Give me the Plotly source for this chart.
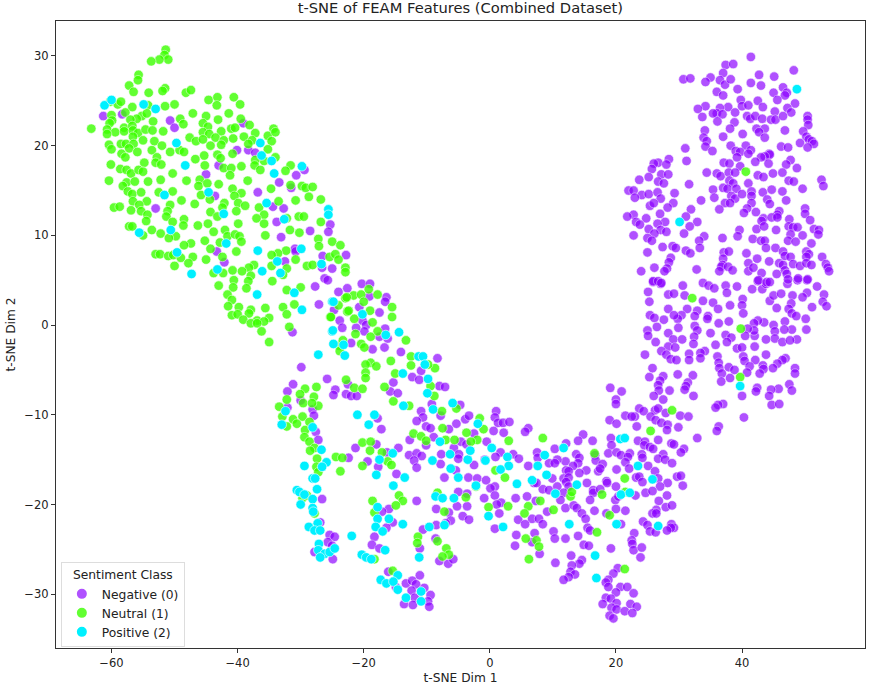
import plotly.graph_objects as go

negative_points = [
(-61.3,23.3),(-58.3,23.5),(-50.7,22.8),(-50,22),(-39.1,22.5),(-40.1,19.5),(-38.3,19.5),(-37.2,19.2),(-43,17.8),(-45,16.8),(-29.4,17.3),(-30.7,16.7),(-33.4,15.9),(-31.5,15.3),(-36.8,14.8),(-43.6,14.4),(-34.4,13.2),(-32.7,13),(-53,13),(-33.8,11.5),(-25.3,11.2),(-25.6,10.4),(-28.5,10.5),(-33.1,9.8),(-30.9,8.5),(-30.8,8.2),(-43.3,8.2),(-42.1,7),(-32.5,7.1),(-26.5,7.7),(-22.8,7.8),(-26.6,6.4),(-25,6.3),(-26.2,5.2),(-25.7,5),(-27.7,4.3),(-24,3.7),(-22.6,4.1),(-27.1,2.3),(-24.7,1.7),(-23.8,0.5),(-23.4,-0.3),(-31.3,-0.8),
(-20.3,4.6),(-19,4.6),(-19.1,3.2),(-16.4,3.1),(-16.6,2.6),(-20.7,2),(-17.5,1.4),(-20.2,.5),(-19.6,0),(-19.9,-.7),(-21.2,-.3),(-16.6,-.4),(-17.5,-1.3),(-16.2,-1.5),(-16.7,-2.5),(-18.6,-2.7),(-22,-2),(-14.1,-3),(-8.3,-3.7),(-10.9,-5.1),(-12.3,-5.8),(-11.2,-6.1),(-15.3,-6.4),(-15.8,-7.4),(-14.6,-7.6),(-8,-6.8),(-7.1,-6.9),(-9.2,-8.8),(-4.7,-8.9),(-29.9,-4.7),(-25.8,-6),(-31.2,-6.6),(-32.1,-7.4),(-24.5,-7.2),(-24.8,-7.8),(-22.5,-6.6),(-22.8,-7.7),(-22,-7.9),(-21.1,-7.9),(-30,-8.4),(-32.1,-9.2),(-28.1,-9.4),(-27.9,-10.1),(-27.6,-11.9),(-27.2,-12.8),(-17.8,-10.4),(-17.2,-11.6),(-18,-13.3),(-21.3,-13.7),(-22.4,-14.8),(-19.4,-15.2),(-16.3,-14.2),(-14.5,-13.7),(-17.7,-15.8),(-14.8,-16.6),(-10.9,-9.6),(-7.8,-10.1),(-10.6,-10.3),(-11.6,-10.7),(-10.1,-11.3),(-9.4,-11.5),(-3.9,-10.5),(-3.3,-10.1),(-5.3,-11),(-6.5,-11.6),(-8.9,-12.5),(-12.7,-12.8),(1,-9.6),(.8,-10.3),(1.3,-10.9),(2.1,-10.9),(3.1,-10.8),(2.2,-12),(.6,-11.8),(-2.5,-12.1),(-.5,-13),(6.1,-11.5),(5.6,-11.9),(-4.6,-13),(-5.7,-13.7),(-3.7,-13.3),(-4.9,-14.4),(-5,-14.9),(-7.7,-14.4),(-10.1,-13.4),(-12.8,-14.5),(-11.6,-14.3),(-10.8,-14.6),(-12,-15.1),(-11.6,-15.9),(-7.8,-15.5),(-5.4,-16.2),(-2.5,-15.6),(-.8,-15),(1.7,-14.2),(.9,-14.7),(3.7,-14.4),(4.6,-14.9),(7.5,-14.2),(7.6,-14.8),(6.1,-15.7),(9.4,-15.4),
(-7.2,-17),(-3.4,-17),(-2,-17.1),(-.6,-17.3),(.8,-18),(.1,-18.2),(-5,-18.6),(-3.6,-18.8),(-.9,-19.3),(.8,-19),(1.8,-19.8),(1.1,-20),(4.1,-19.3),(5.9,-19.1),(7.3,-19.6),(8.4,-18.3),(7,-17.6),(7.4,-17.6),(9.4,-18.4),(-5.2,-20.2),(-3.6,-20.2),(-8.5,-20.5),(-6.5,-20.9),(-4.3,-21.3),(-3.3,-21.7),(1.5,-21),(4.5,-21.7),(6.7,-21.6),(5.6,-22.2),(7.8,-21.6),(8.4,-22.2),(9.1,-20.8),(-6.2,-21.8),(-7,-22.1),(-8.5,-22.3),(-10.6,-22.8),(.8,-22.7),(4.2,-23.4),(7.1,-23.2),(6.7,-24.2),(4,-24.6),(7.9,-25.5),
(-11.6,-19.6),(-16,-20.5),(-17.1,-20.8),(-15.4,-22),(-16.4,-22.6),(-18.3,-23.6),(-18.7,-24.5),(-17.5,-24.9),(-26.6,-19.4),(-26.9,-22),(-25.4,-23.4),(-24.6,-23.6),(-25.7,-24.2),(-25,-24.6),(-27.8,-25.3),(-24.9,-26.1),(-11.1,-24.9),(-8.6,-23.8),(-8,-26.3),(-6.6,-26.6),(-5.8,-26.1),(-16.1,-27.5),(-11.1,-27.9),(-13.3,-28.8),(-12.3,-28.5),(-11.7,-28.9),(-10.4,-29.3),(-12.4,-29.6),(-9.4,-30.1),(-11.9,-30.4),(-13.6,-31.1),(-12.2,-31.2),(-9.8,-30.8),(-9.6,-31.4),(-14.9,-29.2),
(25.9,4.8),(27.1,4.6),(25.1,3.7),(25.3,2.6),(28.3,3.4),(29.2,3.5),(30.6,4.4),(30.9,3.3),(33.8,4.7),(34.7,4.4),(35.6,4.1),(37.4,4.4),(39.2,4.3),(37.6,3.6),(33.8,2.7),(35.4,2.5),(38.1,2.2),(31.3,1.8),(28.3,1.8),(36.2,1.8),(32.9,1.6),(40.1,2.9),(40,2.2),(40.2,1.3),(41.6,4),(43.2,4),(43.8,4.6),(42.5,4.9),(44.4,2.7),(45,3.3),(46.2,3.5),(48,3.3),(47.2,4.6),(48.8,5),(50.3,5),(51.9,4.3),(50.3,3.6),(49.6,3.1),(53,3.4),(52.8,2.6),(53.4,2.1),(51.1,2),(47.8,2.4),(45.5,1.9),(47.4,1.8),(47.9,1.3),(48.6,1),(50.1,.7),(46.8,.4),(45,0),(50.2,-.5),(47.9,-.5),(46.7,-.5),(45.2,-.7),(45.2,-1.5),(46.4,-1.9),(48.7,-1.6),(47.6,-1.7),(43.8,-1.6),(42,-1.2),(43.5,.3),(42.5,.5),(41.9,.2),(41.9,-.6),(40.9,-.4),(40.5,-1.2),(37.9,.4),(36.3,.2),(34.6,1),(34.5,.7),(32.5,1),(32.5,-.1),(32.9,-.6),(30.4,1.1),(29.8,.7),(29.2,1.1),(27.6,.6),(25.4,1.1),(26.1,.8),(26.5,-.2),(25,-.6),(25.1,-1.2),(28.3,-.9),(29.9,-.3),(29.1,-1.6),(30.5,-1.6),(26.3,-1.9),(28.3,-2.4),(29.4,-2.5),(32.4,-1.3),(32.3,-2.1),(35,-.9),(37.4,-1.1),(38.3,-1.4),(37.6,-1.9),(35.8,-2.2),(39.2,-2.6),(40,-2.5),(42,-2.4),(27.2,-2.9),(24.6,-3.3),(28,-3.3),(31.6,-3.2),(34.1,-2.9),(33.4,-3.1),(28.7,-3.8),(29.6,-3.9),(31.6,-3.9),(33.4,-3.7),(36.1,-3.5),(40.2,-3.5),(40.4,-4),(43.8,-3.3),(42.1,-3.9),(36.3,-4.2),(46.9,-3.7),(46.4,-3.9),(45.6,-4.3),(44.9,-4.8),(43.3,-4.5),(43.4,-4.9),(41.2,-4.6),(40.8,-5.3),(42.8,-5.4),(48.4,-4.8),(48.4,-5.4),(36.4,-4.8),(37.9,-4.7),(38.8,-5),(36.8,-5.4),(36.7,-6.3),(38.1,-5.9),(25.8,-4.8),(25.3,-5.8),(29.8,-5.5),(32.2,-5.6),(27.5,-5.7),(27,-6.2),(26.7,-6.7),(31.4,-6.4),(31.1,-6.8),(30.9,-7.2),(28.5,-7.3),(26.8,-7.3),(26,-7.9),(27.5,-8.3),(32.3,-7.9),(47.5,-6.6),(45.8,-7.1),(44.6,-7.2),(47.9,-7.3),(42.4,-7),(42.2,-7.4),(44.3,-7.9),(40,-7.9),(37,-8.8),(36.2,-8.9),(35.8,-9.2),(44.7,-8.9),(45.9,-8.8),(40.3,-10.3),(36.3,-11.3),(36,-11.8),(32.9,-12.6),
(19.1,-7),(20.9,-7.4),(20,-8.3),(20,-8.8),(23.7,-9.3),(24.4,-9.6),(26.2,-9.5),(26.7,-9.3),(27.9,-9.8),(21.5,-10.1),(23,-10.2),(22.5,-10.2),(25.5,-10.2),(26.3,-10.6),(30.2,-10.1),(31.5,-10.2),(19,-10.6),(20.1,-11),(27.2,-10.9),(28.2,-11.1),(23.3,-11.3),(29.9,-11.4),(28.1,-11.7),
(14.8,-12.2),(14,-12.9),(16.3,-12.9),(12.1,-13.2),(19.2,-12.6),(19.3,-13.4),(23.5,-12.9),(24.6,-13),(24.5,-13.4),(25.4,-13.6),(25.9,-13.8),(26.7,-12.8),(28.8,-13.2),(29.2,-13.3),(30.8,-13.8),(30.3,-14.2),(10.3,-13.8),(13.7,-14.4),(14.2,-14.8),(16.7,-14.5),(18.8,-14.3),(20.1,-14.2),(20.8,-14.5),(22.2,-14.3),(21.9,-14.7),(24.1,-14.4),(24.2,-14.8),(27.5,-14.4),(26.7,-14.9),(27.8,-15),(28.9,-15.4),(12,-15.2),(10.7,-15),(10.3,-15.4),(16.8,-15.1),(17.9,-15.5),(14,-15.4),(13.2,-15.7),(21.5,-15.3),(25.1,-15.7),(12.1,-16.2),(12.5,-16.3),(15.3,-16.2),(17.2,-16.3),(17.5,-16),(20.1,-16.1),(22.1,-16),(26.2,-16.3),(14.2,-16.5),(9.9,-17.1),(11.7,-17.1),(12.5,-17),(23.2,-17),(23.7,-16.9),(26.7,-17.1),(29.7,-16.9),(30.3,-16.8),(12.1,-17.5),(15.4,-17.6),(18.5,-17.4),(18.6,-17.6),(24.2,-17.5),(28.2,-17.6),(30.6,-17.9),(12.5,-18),(10.7,-18),(20,-18),(27,-18),(11.7,-18.7),(16.4,-18.4),(16.4,-18.7),(17.5,-18.3),(24.7,-18.7),(25.8,-18.5),(23.1,-19),(11.2,-19.5),(15.9,-19.5),(19.9,-19.5),(20.4,-19.1),(28.1,-19),(26.8,-19.6),(12,-20.4),(13.3,-20.1),(13.8,-20.4),(16.6,-20.7),(20,-20.5),(21.5,-20.7),(27.9,-20.3),(28.9,-20.1),(14.6,-21),(18.5,-21),(26.4,-20.6),(25.8,-21),(26.4,-21),(15.2,-21.6),(15.5,-22.6),(15.9,-22.9),(24.3,-21.9),(25,-22.3),(20.8,-22.2),(28.8,-22.2),(29.2,-22.6),(28.7,-22.6),(28.1,-22.9),(25.4,-23),(26.3,-23.1),(10.1,-23),(10.3,-23.8),(12,-23.8),(14,-23.5),(22.9,-23.2),(22.5,-24),(22.6,-24.4),(14.9,-24.5),(15.7,-24.6),(19.2,-24.9),(22.8,-25.1),(24.1,-24.8),(23.9,-25.9),(12.9,-25.7),(10.4,-26.5),(14.6,-26.2),(14.2,-26.6),(13,-26.8),(12.8,-27.5),(13.5,-27.8),(12.5,-28.1),(11.7,-28.4),(20.3,-27.1),(19.6,-27.7),(18.8,-28.4),(18.4,-28.7),(18.8,-29.2),(20.7,-29.2),(21.8,-29.2),(20,-29.8),(22.8,-29.9),(18.4,-30.4),(19.2,-30.5),(17.9,-31.1),(20.1,-31),(22.3,-31.1),(23.3,-31.4),(19.3,-31.5),(20.1,-31.7),(21.4,-31.9),(22.6,-32.1),(19,-32.4),(19.6,-32.7),
(41.4,29.9),(37.4,29),(38.6,29.1),(37,28.1),(35,27.6),(36.5,27.3),(37.3,26.8),(38.2,27.4),(34.2,27.1),(30.7,27.4),(31.8,27.5),(42.7,27.9),(45.1,27.7),(48.2,28.4),(41.4,27),(43,26.7),(46.5,26.5),(47.1,25.9),(46.8,25.6),(45,25.9),(39.3,26.3),(36,26),(37,25.6),(45.6,25.1),(48.4,24.7),(42.5,25),(39.8,25.1),(37.8,24.3),(34.2,24.4),(33,24.1),(36.5,24.2),(38.9,23.7),(40,24.4),(41,24.5),(43.3,24.3),(45.2,23.8),(47.2,24.2),(47.8,23.7),(36,23.6),(35.4,23.6),(36.9,23.5),(33.7,23.2),(40.8,23.3),(41.3,23),(42.1,23.3),(43.2,23),(44.6,22.9),(45.3,22.9),(46.5,23.3),(50.4,23.3),(50.4,22.9),(50.5,22.3),(36.1,22.7),(38.8,22.6),(38.1,21.9),(34.1,21.7),(42.3,21.9),(43.6,21.9),(42.7,21.5),(46.8,21.7),(49.7,21.6),(40.1,21.3),(37,21),(43.6,20.9),(33.9,20.9),(34.4,20.5),(50.2,21),(50.6,20.7),(51.1,20.5),(51.4,20.2),(49.2,20.3),(50.4,19.8),(46.2,19.9),(47.3,19.8),(38.2,20),(40.6,20),(34.2,19.9),(31,19.7),(35.3,19.4),(39,19.4),(39.7,19.3),(41.4,19.5),(41,19.1),(44.3,19.1),(44.4,19),(43.6,18.8),(43,18.7),(39.2,18.7),(42.1,18.2),(28.4,18.5),(31.2,18.3),(26.7,18.1),(26,18),(28,17.9),(37.1,18.1),(38,18),(44.2,18),(47.7,18.4),(47,17.9),(48.7,17.5),(39.7,17.7),(25.7,17.4),(27.2,16.8),(28.3,16.8),(34.4,17),(36,16.9),(36.6,16.6),(37.9,17),(38.9,17),(42.5,16.7),(43.4,16.5),(44.9,16.9),(46.4,17),(23.7,16.2),(25.2,16.5),(26.7,16),(27.6,15.8),(31.6,15.7),(38,16.1),(38.6,15.8),(41,15.8),(47.4,16.1),(48.2,16),(52.6,16.2),(52.9,15.5),(22,15),(22.8,15),(24.1,14.5),(25.2,14.6),(23,14.2),(26.6,14.8),(27.1,14.1),(29.3,14.7),(35.4,15.1),(37,15.3),(37.7,15.2),(39.1,15.2),(41.5,14.9),(43.3,14.8),(44.7,15.1),(46.4,14.9),(49.6,15.2),(35.6,14.2),(38.3,14.4),(38.9,14.1),(40,14.6),(41.5,14.4),(44,14),(33.5,13.9),(37.3,13.6),(38.1,13.6),(41.5,13.6),(44.4,13.5),(47,13.9),(25.4,13.3),(26,13.6),(29.1,13.6),(28.2,13.1),(36.4,12.9),(40.8,13),(40.3,12.5),(42.2,12.6),(45.9,12.7),(45.6,12.3),(50,13),(50,12.4),(22.8,12.3),(21.8,12.1),(27,12.4),(31.9,12.9),(31.1,12.1),(24.8,11.9),(23.2,11.5),(23.8,11.2),(27.8,11.5),(32.9,11.5),(26.6,11.3),(31.7,11),(43.4,11.9),(43.1,11.6),(44.7,12),(45.6,12),(47.5,11.8),(50.8,11.7),(25.2,10.7),(27.1,10.6),(28,10.4),(26.1,10.2),(39.6,10.6),(42.3,10.7),(43.5,11),(45.4,10.6),(47.4,11),(48.1,10.9),(48.8,10.9),(51.4,10.7),(52.2,10.6),(22.8,10),(30.8,10.2),(39.3,9.9),(36.9,9.7),(47.7,10.1),(49.6,10),(52.1,10.1),(25,9.7),(25.7,9.4),(34,9.9),(33.2,9.4),(41.7,9.6),(43,9.4),(43.6,9.4),(47.3,9.4),(48.5,9.3),(51,9.1),(27.4,8.7),(29,8.8),(29.5,8.6),(33.3,8.6),(43.8,8.6),(45.3,8.6),(25,8.1),(31.1,8.3),(31.8,8),(37.1,8.1),(37.9,8.2),(40.7,8),(46.5,8.2),(46.8,7.7),(47.7,7.6),(50.2,8.2),(50.6,7.9),(50.2,7.6),(28.7,7.5),(37,7.4),(42.4,7.4),(44.3,7.1),(52.7,7.6),(28.4,7),(36.9,6.7),(41,6.9),(45.9,6.9),(46.5,6.7),(48.1,6.8),(49.2,6.6),(50.2,6.9),(51,6.7),(53.3,6.8),(53.6,6.4),(53.8,6),(24,6),(26.1,6.4),(28.1,6.3),(27.7,6),(32.8,6.2),(36.7,6.5),(37.8,6.5),(38.5,6.1),(36.4,6),(41,6),(41.8,6.4),(43.1,5.8),(46.8,6.1),(47.1,5.7),(45.5,5.7),(42.6,5),(43.9,4.8),(44.4,4.8),(47.3,5.1),(48.9,5.2),(50.4,5.1),(25.9,4.9),(26.7,4.9),(27.2,4.7),
]

neutral_points = [
(-63.2,21.9),(-51.4,30.7),(-51.6,30.1),(-51,29.6),(-52.4,29.6),(-53.7,29.4),(-55.7,27.9),(-55.8,27.3),(-57.2,26.7),(-56.5,26),(-54.1,25.9),(-51.5,26.4),(-51.9,26.1),(-48.2,25.9),(-47.4,26.2),(-44.6,25.1),(-43.2,25.4),(-40.6,25.4),(-39.6,24.6),(-43.3,24.5),(-60.2,24.9),(-59,24.6),(-58.5,24.9),(-56.7,24.3),(-54.2,24.5),(-51.5,24.4),(-50,24.6),(-47.1,23.6),(-41.4,23.6),(-45,23.3),(-43.1,22.9),(-39.5,23),(-38.1,22.3),(-45.5,22.5),(-49.1,23),(-48.6,22.4),(-53.4,22.7),(-57.8,23.7),(-55.2,23.3),(-54.4,23.6),(-56,23),(-57,22.9),(-60,23.4),(-59.9,22.8),(-60.3,22.5),(-58,22),(-56.7,22.2),(-60.7,21.8),(-59.4,21.5),(-60.7,21.3),(-58,21.6),(-56.6,21.7),(-55.8,21.4),(-56.6,21),(-54.6,21.8),(-53.5,21.7),(-51.8,21.6),(-44.7,22.1),(-45.5,21.5),(-44.5,21.3),(-42.6,21.6),(-41,21.9),(-40.4,22),(-37.2,21.4),(-39,21),(-35.2,21.1),(-34.3,21.9),(-34,21.5),(-47.6,20.9),(-46.6,20.5),(-45.5,20.7),(-43.5,20.9),(-42.2,20.6),(-40.7,20.8),(-37.7,20.6),(-34.6,20.5),(-55,20.6),(-53.2,20.5),(-60.4,20.1),(-58.5,20.2),(-57.7,20.2),(-56.5,20.2),(-52,20),(-44.3,20),(-42.6,20.1),(-38.3,20.2),(-35.2,19.6),(-60,19.6),(-57.2,19.7),(-53.6,19.5),(-50.7,19.3),(-49.2,19.5),(-48.5,19.3),(-58.4,19.1),(-55.9,19.3),(-43.2,19),(-40.8,19.1),(-57.8,18.7),(-52.8,18.7),(-45.3,18.9),(-46.7,18.5),(-42.7,18.6),(-34,18.7),(-35.8,18.3),(-37.2,18.4),(-37.3,17.8),(-53,18.1),(-52.1,17.9),(-54.8,18.1),(-60.1,17.9),(-58.6,17.4),(-57.6,17.3),(-56.9,16.9),(-55.7,17.3),(-55,17.1),(-45.2,17.8),(-42.2,17.5),(-41,17.5),(-39.4,17.7),(-36.4,17.3),(-31.6,17.8),(-32.4,17.2),(-50.3,16.9),(-41.2,16.7),(-52.2,16.2),(-60.4,16.1),(-57.6,15.9),(-56.3,16),(-54.2,16),(-48.1,16.1),(-46,16.2),(-38.4,16.1),(-46.2,15.5),(-44.8,15.8),(-43,15.7),(-58.2,15.5),(-34.7,15.2),(-31.6,15.6),(-29.8,15.5),(-29.2,15.3),(-28.1,15.4),(-57.4,14.9),(-56.7,14.6),(-55.3,14.8),(-52.5,14.8),(-50.3,14.9),(-40.8,15.2),(-39.4,14.7),(-45.8,14.5),(-40.5,14.4),(-28.7,14.3),(-30.8,13.9),(-26.8,14),(-48.9,13.9),(-44.4,14),(-56.6,13.8),(-54.4,13.8),(-55.6,13.4),(-50.7,13.4),(-46.8,13.5),(-42.1,13.6),(-39.9,13.6),(-38.8,13.3),(-33.5,13.8),(-36.6,13.1),(-59.6,13.1),(-58.7,13.2),(-56.9,12.8),(-55.3,12.7),(-51.1,12.7),(-42.4,13.1),(-44.3,12.6),(-40.2,12.7),(-54.3,12.3),(-51.3,12.1),(-43.2,12.1),(-35.8,12.3),(-37,11.9),(-30.3,12.1),(-29.5,12.1),(-32.2,11.9),(-54.5,11.6),(-50.3,11.5),(-48.5,11.8),(-48.6,11.1),(-46.3,11.1),(-44.7,11.3),(-39.9,11.3),(-35.8,11.3),(-26.8,11.5),(-57.2,11),(-56.7,11),(-53.6,10.6),(-42,10.6),(-31.7,10.6),(-43.8,10.4),(-52.2,10.2),(-49.8,9.9),(-50.9,9.7),(-55,10),(-41.6,9.9),(-40.4,10.1),(-39.7,9.9),(-35.6,10),(-30.2,10.3),(-27.2,9.6),(-25,9.3),(-45.2,9.4),(-42.8,9.2),(-39.4,9.3),(-47.4,9.1),(-48.5,8.9),(-27.1,8.8),(-23.7,8.9),(-44.3,8.5),(-40.2,8.2),(-32.3,8.3),(-33.6,8),(-34.6,7.8),(-53,7.9),(-52.3,7.9),(-51,7.7),(-50.2,7.8),(-49,7.5),(-47.1,7.6),(-45,7.3),(-42.4,7.6),(-25.4,7.6),(-24.5,7.9),(-24,7.3),(-30.8,7.3),(-37.4,6.7),(-38.2,6.4),(-50,6.6),(-47.8,6.9),(-40.8,6.1),(-39.3,6),(-32.2,6.3),(-29,6.6),(-28.1,6.7),(-22.9,6.4),(-43.8,5.8),(-42.3,5.8),(-37.9,5.5),(-34.6,6.6),(-32.8,5.6),(-22.9,5.9),(-40.6,5),(-38.3,4.9),(-34.5,4.9),(-43,4.4),(-40.7,4.2),(-38.6,4.1),(-32.2,3.9),(-30,4.2),(-41.6,3.4),(-40.9,2.8),(-31,2.3),(-32.8,2),(-41.5,2.1),(-39.8,2),(-35.6,1.9),(-24,2.2),(-37.9,1.7),(-38.2,1.3),(-40.9,1.1),(-40,1.2),(-32.2,1.2),(-25.3,0.9),(-39.1,0.6),(-36.9,0.5),(-35,0.8),(-37.9,0.2),(-35.8,0.4),(-36.9,0.2),(-31.8,-0.2),(-36.2,-0.7),(-22.6,1.5),(-22.9,3),
(-15.7,-4),(-12.5,-3.5),(-12.5,-4.5),(-8.7,-4.8),(-9.8,-4.4),(-18.9,-4.2),(-19.7,-4.4),(-18,-4.6),(-19.7,-5.3),(-19.7,-5.9),(-15,-5.4),(-16.7,-6.9),(-9.4,-6.8),(-8.8,-7.9),(-15.3,-8.5),(-12.8,-9),(-21.5,-7),(-20.2,-7.1),(-22.8,-6.1),
(-21.6,3.3),(-20.4,3.4),(-19.2,4),(-17.8,3.4),(-20,2.6),(-15.5,2),(-19,1.6),(-21.5,.7),(-15.5,.9),(-18.6,.3),(-17.8,-.7),(-18.9,-1.3),(-13.3,-1.7),(-20.4,-2.1),(-19.9,-2.5),(-21.3,-1),(-22.7,3.1),(-22.4,1.6),(-25.2,.9),(-23.9,-2.3),(-23.3,-1.7),(-23.8,-2.9),(-35,-1.9),
(-29.3,-7.1),(-27.5,-6.9),(-30.1,-7.7),(-27.9,-8),(-32.2,-8.3),(-33.4,-9.1),(-27.2,-9),(-29.6,-8.7),(-28.2,-8.7),(-32.9,-10.2),(-31.2,-10.5),(-29.7,-10.2),(-30.6,-11),(-32.2,-11.3),(-28.6,-10.8),(-29.3,-11.7),(-29.4,-12.5),(-28.6,-13),(-27.8,-13.7),(-28.5,-14),(-27.4,-14.9),(-27.5,-15.8),(-27.2,-16.4),(-24.4,-14.7),(-23.4,-14.8),(-23.7,-16.3),(-20.2,-13.1),(-18.9,-13),(-19,-14),(-17.1,-14.2),(-20.2,-15.7),(-16.2,-15.2),(-15.6,-15.6),(-12.1,-12.1),(-10.9,-12.4),(-10.1,-12.9),(-7,-12.8),(-7.5,-11.5),(-7.6,-9.6),(-5.3,-9.3),(-5.6,-12.8),(-3.7,-12),(-2,-12.8),(-3,-13),(-1.6,-10.4),(-1,-11.6),(3,-12.9),(8.4,-12.6),(.9,-16.2),(2.4,-17),(-2.2,-18),(-3.8,-19.2),(-8.3,-18.7),(-7.2,-20.8),(-.2,-20.3),(2.9,-20.2),(6.1,-20.2),(8,-19.6),(5.5,-21),(5.7,-23.8),(7.4,-24),(7.8,-24.7),(6.2,-26.1),(-8.3,-24.1),(-6.9,-24.9),(-6.5,-25.6),(-7.5,-25.8),(-11.4,-23.6),(-11.5,-24.3),(-14.4,-19),(-13.8,-19.6),(-14.9,-20.1),(-18.6,-19.6),(-18.3,-20.9),(-18.3,-26.1),(-15.4,-27.4),(-27.8,-21),(-29.7,-19.3),(-29,-19),
(32.1,3),(39.8,-.4),(39.7,-5.8),(28.9,-9.5),(25.5,-11.8),(16.6,-14.3),(21.4,-17.1),(17.8,-18.9),(12.8,-19.1),(13,-18.6),(10.1,-20.6),(19,-21.2),(17,-23.1),(21.4,-27.2),(21.5,-18.6),(40.6,17.1),
]

positive_points = [
(-61.1,24.5),(-60,25.1),(-54.9,24.6),(-53,24.1),(-49.7,20.3),(-36.4,20.3),(-36.2,18.9),(-34.6,18.3),(-48.3,17.8),(-29.8,17.7),(-34.2,16.9),(-51.6,14.5),(-44.6,14.8),(-35.4,13.6),(-42.2,12.4),(-25.6,12.9),(-25.6,12.3),(-32.6,11.8),(-55.6,10.3),(-50.6,10.6),(-41.8,9.1),(-36.8,8.3),(-29.9,8.5),(-49.6,8.1),(-33.7,7.1),(-26.7,6.8),(-43.2,6.2),(-36.1,6),(-33.2,5.8),(-47.3,5.7),(-31,3.6),(-36.9,3.4),(-25,2.6),(-29.8,1.7),(-25,-0.7),
(-14.4,-.8),(-20.2,1.2),(-16.5,-1.1),(-24.9,-.6),(-24.8,-2.1),(-23.2,-2.2),(-23,-3.4),(-27.2,-3.3),(-24.8,2.6),(-11.3,-3.5),(-10.6,-3.5),(-10.3,-4.4),(-13.8,-5.4),(-9.8,-6),(-9.9,-7.6),(-13.7,-9),(-9,-9.4),(-5.9,-8.7),(-1.9,-11),(-21,-10),(-18.3,-10),(-19.2,-11.1),(-32.4,-9.6),(-33,-11.1),(-28.1,-11.4),(-26.7,-13.9),(-29.4,-15.7),(-25.9,-15.3),(-26.6,-15.8),(-28.1,-17.1),(-27.7,-17.1),(-27.4,-18.3),(-30.6,-18.4),(-30.2,-18.6),(-29.4,-18.9),(-28.1,-19.4),(-30,-20),(-28.1,-20.4),(-28,-20.8),(-27.3,-22.1),(-28.7,-22.5),(-27.8,-22.9),(-26.9,-22.9),(-21.9,-23.5),(-27.1,-24.4),(-27.2,-25.1),(-26.2,-25.5),(-25.4,-25.3),(-24.6,-24.9),(-26.9,-25.9),(-20.3,-25.6),(-19.6,-25.9),(-18.8,-26.1),(-16.6,-25.1),(-17.5,-15),(-15.4,-14.3),(-18,-16.7),(-13.5,-17),(-15.3,-17.9),(-17.8,-20.3),(-16,-21.6),(-17.8,-21.6),(-18.1,-22.5),(-17,-23),(-13.8,-22.2),(-17.3,-28.4),(-16.4,-28.8),(-14.6,-27.9),(-15.3,-28.6),(-14.6,-29.5),(-10.9,-29.7),(-13.3,-30.4),(-10.9,-30.8),(-11.2,-25.9),(-9.6,-22.5),(-7.2,-22.3),(-8.6,-19.1),(-7.5,-19.3),(-5.7,-19.3),(-5,-17),(-6.2,-16),(-7.9,-13),(-6.3,-14.4),(-9.1,-15.1),(-3.5,-15),(-3.1,-14),(-2.2,-17.9),(-.7,-15.1),(.3,-13.7),(2.8,-14.7),(3,-15.7),(1.7,-16.1),(4.3,-17.7),(6.7,-17.3),(8.7,-14.5),(7.6,-15.7),(9,-16.7),(-.2,-21.3),(2.1,-22.5),
(39.7,-6.8),(20.7,-12.7),(21.4,-12.6),(11.7,-13.7),(23.5,-15.7),(25.8,-17.2),(13.8,-17.8),(10.4,-18.8),(20.8,-18.9),(22.2,-18.7),(12.6,-22.2),(20.1,-22.2),(26.7,-22.4),(16.7,-25.7),(16.9,-28.2),(48.7,26.3),(30.1,11.5),
]

series_names = ["Negative (0)", "Neutral (1)", "Positive (2)"]
series_colors = ["rgb(139,0,255)", "rgb(60,255,0)", "rgb(0,240,255)"]
series_opacity = [0.68, 0.8, 1]
series_points = [negative_points, neutral_points, positive_points]

fig = go.Figure()
for name, color, alpha, pts in zip(series_names, series_colors, series_opacity, series_points):
    fig.add_trace(go.Scatter(
        x=[p[0] for p in pts], y=[p[1] for p in pts], mode="markers", name=name,
        marker=dict(size=9.5, color=color, opacity=alpha, line=dict(color="white", width=0.6)),
    ))

axis = dict(showgrid=False, zeroline=False, showline=True, linecolor="#333", linewidth=1.2,
            mirror=True, ticks="outside", ticklen=4, tickcolor="#333",
            tickfont=dict(size=11.5, color="#222"))
fig.update_layout(
    width=872, height=688, margin=dict(l=55.5, r=6, t=21, b=38), plot_bgcolor="white", paper_bgcolor="white",
    font=dict(family="DejaVu Sans", color="#222"),
    title=dict(text="t-SNE of FEAM Features (Combined Dataset)", x=0.528, xanchor="center", y=0.9885, yanchor="middle",
               font=dict(size=14.7)),
    xaxis=dict(axis, range=[-68.8, 59.5], tickvals=[-60, -40, -20, 0, 20, 40],
               title=dict(text="t-SNE Dim 1", font=dict(size=12.2), standoff=4)),
    yaxis=dict(axis, range=[-36, 33.9], tickvals=[-30, -20, -10, 0, 10, 20, 30],
               title=dict(text="t-SNE Dim 2", font=dict(size=12.2), standoff=6)),
    legend=dict(x=0.006, y=0.001, xanchor="left", yanchor="bottom", bgcolor="rgba(255,255,255,0.8)",
                bordercolor="#ddd", borderwidth=1, font=dict(size=12.3, color="#222"),
                title=dict(text="Sentiment Class", font=dict(size=12.3), side="top center"), itemsizing="constant",
                tracegroupgap=0),
)
fig.write_html("out.html", post_script="document.body.style.margin='0';", config={"displayModeBar": False})
